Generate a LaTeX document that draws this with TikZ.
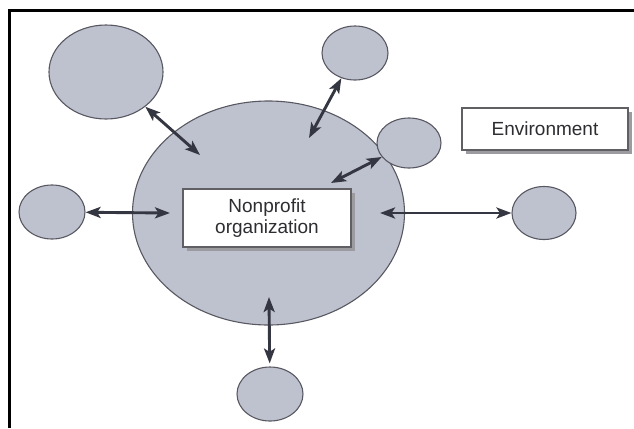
\documentclass[tikz,border=0pt]{standalone}
\usepackage{fontspec}
\setmainfont{Liberation Sans}
\usetikzlibrary{shapes.geometric,arrows.meta,shadows}

\definecolor{orbfill}{RGB}{190,193,206}
\definecolor{orbline}{RGB}{88,88,98}
\definecolor{arrowink}{RGB}{52,54,66}
\definecolor{boxline}{RGB}{95,95,100}
\definecolor{shade}{RGB}{155,155,160}
\definecolor{textink}{RGB}{45,45,50}

\tikzset{
  orb/.style={ellipse, draw=orbline, fill=orbfill, line width=1.1bp, inner sep=0pt},
  labelbox/.style={rectangle, draw=boxline, fill=white, line width=1.1bp, inner sep=0pt,
    text=textink, font=\fontsize{19bp}{21bp}\selectfont, align=center,
    drop shadow={shadow xshift=3.5bp, shadow yshift=-3.5bp, fill=shade, opacity=1}},
  link/.style={draw=arrowink, line width=2.9bp,
    {Stealth[length=15bp,width=11bp,inset=3.5bp]}-{Stealth[length=15bp,width=11bp,inset=3.5bp]}}
}

\begin{document}
\begin{tikzpicture}[x=1bp,y=-1bp]
  \useasboundingbox (0,0) rectangle (634,428);

  % frame
  \draw[line width=2.2bp, black] (9.5,428) -- (9.5,10.5) -- (634,10.5);

  % the organization and its surroundings
  \node[orb, minimum width=272bp, minimum height=224bp] (org) at (268.5,213) {};
  \node[orb, minimum width=114bp, minimum height=94bp] (tl) at (106,72) {};
  \node[orb, minimum width=66bp, minimum height=54bp] (tm) at (355,53) {};
  \node[orb, minimum width=64bp, minimum height=50bp] (rm) at (409,143) {};
  \node[orb, minimum width=66bp, minimum height=54bp] (lc) at (52,212) {};
  \node[orb, minimum width=64bp, minimum height=53bp] (rc) at (544,213) {};
  \node[orb, minimum width=66bp, minimum height=54bp] (bc) at (270,394) {};

  \node[labelbox, minimum width=168bp, minimum height=58bp] (np) at (267,218)
    {Nonprofit\\organization};
  \node[labelbox, minimum width=166bp, minimum height=42bp] (env) at (545,129)
    {Environment};

  % inner ends of the exchanges
  \coordinate (itl) at (200,155);
  \coordinate (itm) at (309,138);
  \coordinate (irm) at (331,183);
  \coordinate (ilc) at (170,213);
  \coordinate (irc) at (380,213);
  \coordinate (ibc) at (269,297);

  \draw[link] (tl) -- (itl);
  \draw[link] (tm) -- (itm);
  \draw[link] (rm) -- (irm);
  \draw[link] (lc) -- (ilc);
  \draw[link] (rc) -- (irc);
  \draw[link, shorten <=3bp] (bc) -- (ibc);
\end{tikzpicture}
\end{document}
